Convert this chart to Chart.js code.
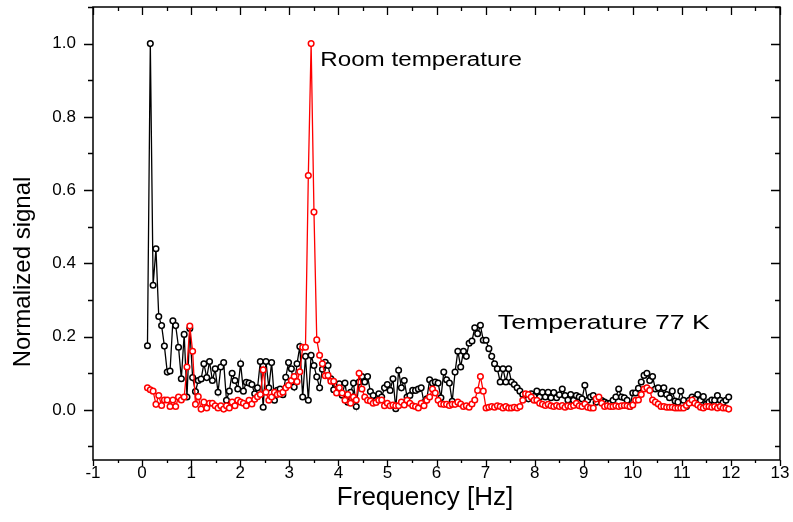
<!DOCTYPE html>
<html>
<head>
<meta charset="utf-8">
<script src="https://cdn.jsdelivr.net/npm/chart.js@4/dist/chart.umd.min.js"></script>
<style>
  html, body { margin: 0; padding: 0; background: #fff; }
  #wrap { width: 793px; height: 522px; }
</style>
</head>
<body>
<div id="wrap"><canvas id="spectrum" width="793" height="522"></canvas></div>
<script>
// frequency bins [Hz]
const freq = [
  0.110, 0.168, 0.225, 0.283, 0.340, 0.398, 0.455, 0.513, 0.570, 0.628,
  0.685, 0.743, 0.800, 0.858, 0.915, 0.973, 1.030, 1.088, 1.145, 1.203,
  1.260, 1.318, 1.375, 1.433, 1.490, 1.548, 1.605, 1.663, 1.720, 1.778,
  1.835, 1.893, 1.950, 2.008, 2.065, 2.123, 2.180, 2.238, 2.295, 2.353,
  2.410, 2.468, 2.525, 2.583, 2.640, 2.698, 2.755, 2.813, 2.870, 2.928,
  2.985, 3.043, 3.100, 3.158, 3.215, 3.273, 3.330, 3.388, 3.445, 3.503,
  3.560, 3.618, 3.675, 3.733, 3.790, 3.848, 3.905, 3.963, 4.020, 4.078,
  4.135, 4.193, 4.250, 4.308, 4.365, 4.423, 4.480, 4.538, 4.595, 4.653,
  4.710, 4.768, 4.825, 4.883, 4.940, 4.998, 5.055, 5.113, 5.170, 5.228,
  5.285, 5.343, 5.400, 5.458, 5.515, 5.573, 5.630, 5.688, 5.745, 5.803,
  5.860, 5.918, 5.975, 6.033, 6.090, 6.148, 6.205, 6.263, 6.320, 6.378,
  6.435, 6.493, 6.550, 6.608, 6.665, 6.723, 6.780, 6.838, 6.895, 6.953,
  7.010, 7.068, 7.125, 7.183, 7.240, 7.298, 7.355, 7.413, 7.470, 7.528,
  7.585, 7.643, 7.700, 7.758, 7.815, 7.873, 7.930, 7.988, 8.045, 8.103,
  8.160, 8.218, 8.275, 8.333, 8.390, 8.448, 8.505, 8.563, 8.620, 8.678,
  8.735, 8.793, 8.850, 8.908, 8.965, 9.023, 9.080, 9.138, 9.195, 9.253,
  9.310, 9.368, 9.425, 9.483, 9.540, 9.598, 9.655, 9.713, 9.770, 9.828,
  9.885, 9.943, 10.000, 10.058, 10.115, 10.173, 10.230, 10.288, 10.345, 10.403,
  10.460, 10.518, 10.575, 10.633, 10.690, 10.748, 10.805, 10.863, 10.920, 10.978,
  11.035, 11.093, 11.150, 11.208, 11.265, 11.323, 11.380, 11.438, 11.495, 11.553,
  11.610, 11.668, 11.725, 11.783, 11.840, 11.898, 11.955
];

// Temperature 77 K (black)
const signal77K = [
  0.175, 1.0, 0.34, 0.44, 0.255, 0.23, 0.174, 0.103, 0.106, 0.243,
  0.23, 0.171, 0.085, 0.206, 0.035, 0.222, 0.088, 0.05, 0.08, 0.084,
  0.126, 0.088, 0.132, 0.08, 0.112, 0.048, 0.117, 0.129, 0.026, 0.051,
  0.1, 0.08, 0.057, 0.126, 0.051, 0.075, 0.073, 0.069, 0.044, 0.06,
  0.132, 0.007, 0.132, 0.06, 0.129, 0.026, 0.053, 0.057, 0.041, 0.089,
  0.129, 0.112, 0.062, 0.126, 0.173, 0.035, 0.146, 0.026, 0.149, 0.121,
  0.09, 0.06, 0.111, 0.13, 0.121, 0.085, 0.055, 0.07, 0.071, 0.04,
  0.073, 0.021, 0.048, 0.073, 0.009, 0.076, 0.091, 0.076, 0.091, 0.05,
  0.039, 0.025, 0.044, 0.035, 0.06, 0.069, 0.053, 0.085, 0.003, 0.108,
  0.06, 0.08, 0.035, 0.039, 0.053, 0.053, 0.057, 0.06, 0.02, 0.03,
  0.082, 0.073, 0.076, 0.073, 0.033, 0.103, 0.082, 0.073, 0.023, 0.103,
  0.16, 0.117, 0.16, 0.146, 0.182, 0.188, 0.224, 0.208, 0.231, 0.19,
  0.19, 0.167, 0.146, 0.126, 0.112, 0.076, 0.112, 0.076, 0.112, 0.076,
  0.069, 0.06, 0.051, 0.042, 0.033, 0.03, 0.044, 0.036, 0.051, 0.035,
  0.048, 0.035, 0.048, 0.033, 0.047, 0.033, 0.041, 0.057, 0.039, 0.027,
  0.042, 0.026, 0.039, 0.035, 0.03, 0.067, 0.026, 0.035, 0.039, 0.021,
  0.03, 0.025, 0.021, 0.018, 0.018, 0.026, 0.035, 0.057, 0.035, 0.033,
  0.026, 0.009, 0.046, 0.046, 0.059, 0.076, 0.094, 0.1, 0.08, 0.091,
  0.057, 0.06, 0.044, 0.06, 0.042, 0.033, 0.051, 0.024, 0.021, 0.051,
  0.026, 0.009, 0.026, 0.035, 0.03, 0.042, 0.026, 0.036, 0.015, 0.021,
  0.027, 0.026, 0.039, 0.026, 0.02, 0.026, 0.035
];

// Room temperature (red)
const signalRoom = [
  0.06, 0.055, 0.051, 0.015, 0.039, 0.012, 0.027, 0.027, 0.009, 0.027,
  0.009, 0.035, 0.027, 0.035, 0.117, 0.229, 0.16, 0.015, 0.036, 0.002,
  0.021, 0.005, 0.018, 0.018, 0.011, 0.005, 0.011, 0.002, 0.011, 0.005,
  0.021, 0.011, 0.026, 0.021, 0.018, 0.011, 0.026, 0.016, 0.029, 0.036,
  0.042, 0.109, 0.048, 0.026, 0.035, 0.048, 0.042, 0.044, 0.048, 0.06,
  0.067, 0.08, 0.091, 0.077, 0.104, 0.171, 0.171, 0.64, 1.0, 0.54,
  0.191, 0.149, 0.126, 0.093, 0.094, 0.078, 0.078, 0.046, 0.06, 0.046,
  0.026, 0.042, 0.018, 0.035, 0.027, 0.1, 0.057, 0.035, 0.026, 0.024,
  0.018, 0.02, 0.026, 0.027, 0.011, 0.018, 0.011, 0.013, 0.011, 0.011,
  0.021, 0.013, 0.026, 0.018, 0.011, 0.009, 0.005, 0.018, 0.011, 0.026,
  0.035, 0.057, 0.046, 0.026, 0.016, 0.015, 0.015, 0.012, 0.015, 0.015,
  0.021, 0.016, 0.009, 0.011, 0.007, 0.016, 0.027, 0.053, 0.091, 0.051,
  0.005, 0.007, 0.009, 0.007, 0.011, 0.009, 0.005, 0.009, 0.005, 0.005,
  0.007, 0.005, 0.009, 0.026, 0.044, 0.042, 0.035, 0.026, 0.026, 0.018,
  0.015, 0.012, 0.015, 0.011, 0.009, 0.012, 0.009, 0.012, 0.007, 0.011,
  0.009, 0.012, 0.018, 0.011, 0.009, 0.016, 0.007, 0.005, 0.005, 0.03,
  0.035, 0.018, 0.009, 0.011, 0.009, 0.009, 0.011, 0.009, 0.011, 0.012,
  0.011, 0.009, 0.013, 0.026, 0.027, 0.042, 0.057, 0.06, 0.053, 0.027,
  0.021, 0.016, 0.009, 0.009, 0.007, 0.007, 0.007, 0.005, 0.005, 0.005,
  0.005, 0.012, 0.018, 0.027, 0.018, 0.013, 0.007, 0.005, 0.009, 0.009,
  0.007, 0.009, 0.005, 0.009, 0.005, 0.005, 0.002
];

const xTicks = [-1, 0, 1, 2, 3, 4, 5, 6, 7, 8, 9, 10, 11, 12, 13];
const yTicks = [0.0, 0.2, 0.4, 0.6, 0.8, 1.0];

const FONT = "'Liberation Sans', Arial, sans-serif";

const toPoints = (ys) => ys.map((v, i) => ({ x: freq[i], y: v }));

// text a little wider than the font, as in the original figure
function wideText(ctx, text, x, y, size, stretch, align) {
  ctx.save();
  ctx.font = `${size}px ${FONT}`;
  ctx.textBaseline = 'middle';
  ctx.textAlign = 'left';
  const w = ctx.measureText(text).width * stretch;
  const left = align === 'center' ? x - w / 2 : x;
  ctx.translate(left, y);
  ctx.scale(stretch, 1);
  ctx.fillText(text, 0, 0);
  ctx.restore();
}

// frame, major + minor ticks on all four sides, axis titles and the two labels
const framePlugin = {
  id: 'frame',
  afterDraw(chart) {
    const { ctx, chartArea: a, scales: { x, y } } = chart;
    ctx.save();
    ctx.strokeStyle = '#000';
    ctx.lineWidth = 1.5;
    ctx.strokeRect(a.left, a.top, a.right - a.left, a.bottom - a.top);

    ctx.lineWidth = 1.3;
    ctx.beginPath();
    for (let v = -1; v <= 13.001; v += 0.5) {
      const px = Math.round(x.getPixelForValue(v)) + 0.5;
      const major = Math.abs(v - Math.round(v)) < 1e-6;
      ctx.moveTo(px, a.bottom); ctx.lineTo(px, a.bottom + (major ? 6 : 3));
      ctx.moveTo(px, a.top); ctx.lineTo(px, a.top + (major ? 8 : 4));
    }
    for (let k = -1; k <= 11; k++) {
      const py = Math.round(y.getPixelForValue(k / 10)) + 0.5;
      const len = k % 2 === 0 ? 9 : 5;
      ctx.moveTo(a.left, py); ctx.lineTo(a.left - len, py);
      ctx.moveTo(a.right, py); ctx.lineTo(a.right - len, py);
    }
    ctx.stroke();

    ctx.fillStyle = '#000';
    wideText(ctx, 'Frequency [Hz]', 425, 498, 25, 1.04, 'center');

    ctx.save();
    ctx.font = `24px ${FONT}`;
    ctx.textAlign = 'center';
    ctx.textBaseline = 'middle';
    ctx.translate(23, 272);
    ctx.rotate(-Math.PI / 2);
    ctx.fillText('Normalized signal', 0, 0);
    ctx.restore();

    wideText(ctx, 'Room temperature', x.getPixelForValue(3.63), y.getPixelForValue(0.955), 20, 1.21, 'left');
    wideText(ctx, 'Temperature 77 K', x.getPixelForValue(7.25), y.getPixelForValue(0.236), 21, 1.27, 'left');
    ctx.restore();
  }
};

new Chart(document.getElementById('spectrum'), {
  type: 'scatter',
  data: {
    datasets: [
      {
        label: 'Room temperature',
        data: toPoints(signalRoom),
        showLine: true,
        borderColor: '#ff0000',
        backgroundColor: '#ffffff',
        borderWidth: 1.3,
        pointRadius: 2.8,
        pointBorderWidth: 1.5,
        pointBackgroundColor: '#ffffff',
        pointBorderColor: '#ff0000',
        order: 0
      },
      {
        label: 'Temperature 77 K',
        data: toPoints(signal77K),
        showLine: true,
        borderColor: '#000000',
        backgroundColor: '#ffffff',
        borderWidth: 1.3,
        pointRadius: 2.8,
        pointBorderWidth: 1.5,
        pointBackgroundColor: '#ffffff',
        pointBorderColor: '#000000',
        order: 1
      }
    ]
  },
  options: {
    responsive: false,
    animation: false,
    layout: { padding: { top: 7, right: 13, left: 0, bottom: 0 } },
    plugins: { legend: { display: false }, tooltip: { enabled: false } },
    scales: {
      x: {
        type: 'linear',
        min: -1,
        max: 13,
        afterFit: (s) => { s.height = 62; s.paddingLeft = 0; s.paddingRight = 0; },
        afterBuildTicks: (s) => { s.ticks = xTicks.map(v => ({ value: v })); },
        grid: { display: false, drawTicks: false },
        border: { display: false },
        ticks: {
          padding: 3,
          color: '#000',
          font: { family: FONT, size: 17 },
          maxRotation: 0,
          autoSkip: false,
          callback: (v) => String(v)
        }
      },
      y: {
        type: 'linear',
        min: -0.137,
        max: 1.1,
        afterFit: (s) => { s.width = 93; s.paddingTop = 0; s.paddingBottom = 0; },
        afterBuildTicks: (s) => { s.ticks = yTicks.map(v => ({ value: v })); },
        grid: { display: false, drawTicks: false },
        border: { display: false },
        ticks: {
          padding: 17,
          color: '#000',
          font: { family: FONT, size: 17 },
          autoSkip: false,
          callback: (v) => Number(v).toFixed(1)
        }
      }
    }
  },
  plugins: [framePlugin]
});
</script>
</body>
</html>
